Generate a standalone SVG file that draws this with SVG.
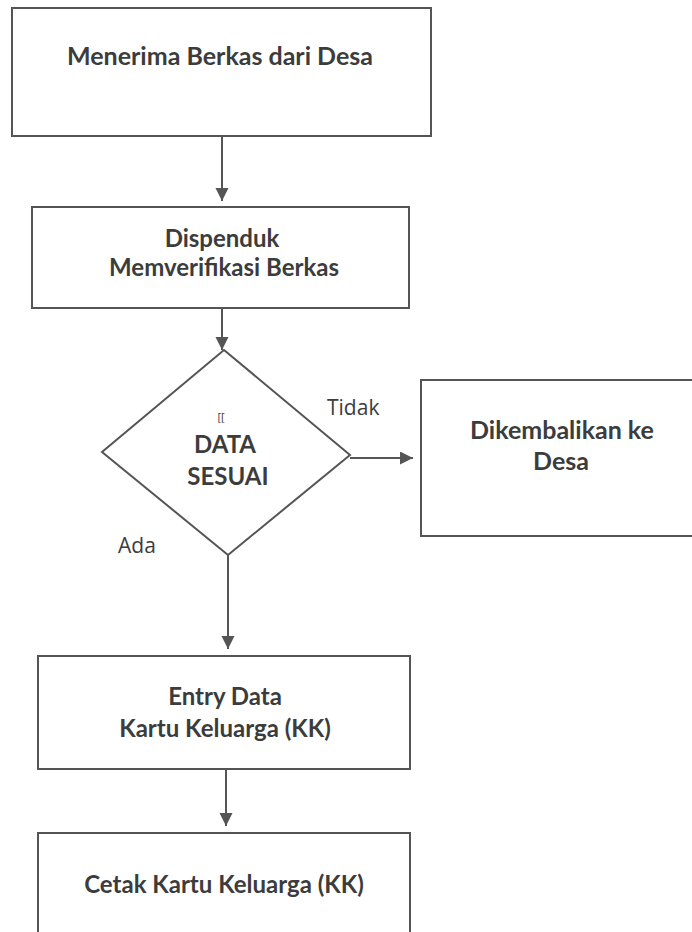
<svg xmlns="http://www.w3.org/2000/svg" width="692" height="932" viewBox="0 0 692 932">
<defs>
<marker id="ah" markerWidth="14" markerHeight="14" refX="13" refY="6.5" orient="auto" markerUnits="userSpaceOnUse">
<path d="M0,0 L13,6.5 L0,13 z" fill="#555"/>
</marker>
<style>
.box{fill:#fff;stroke:#555;stroke-width:2}
.t{font-family:Lato,"Open Sans",sans-serif;font-weight:bold;font-size:24px;fill:#3c3c3c;text-anchor:middle}
.l{font-family:"Open Sans",Lato,sans-serif;font-size:21px;fill:#3c3c3c}
.c{fill:none;stroke:#555;stroke-width:2;marker-end:url(#ah)}
</style>
</defs>
<rect width="692" height="932" fill="#fff"/>
<g id="connectors">
<path class="c" d="M222,136 L222,201"/>
<path class="c" d="M222,308 L222,350"/>
<path class="c" d="M350,458 L413,458"/>
<path class="c" d="M228,555 L228,649"/>
<path class="c" d="M226,770 L226,826"/>
</g>
<g id="n1"><rect class="box" x="12" y="8" width="419" height="128"/>
<text class="t" x="220" y="65" style="font-size:25px">Menerima Berkas dari Desa</text></g>
<g id="n2"><rect class="box" x="32" y="207" width="377" height="101"/>
<text class="t" x="222" y="247">Dispenduk</text>
<text class="t" x="224" y="276">Memverifikasi Berkas</text></g>
<g id="n3"><path class="box" d="M224,350 L350,455 L228,555 L102,452 Z"/>
<text x="221" y="421" style="font-family:'Open Sans',sans-serif;font-size:11px;fill:#3c3c3c;text-anchor:middle">[[</text>
<text class="t" x="225" y="453">DATA</text>
<text class="t" x="228" y="485">SESUAI</text></g>
<g id="n4"><rect class="box" x="421" y="380" width="280" height="156"/>
<text class="t" x="562" y="439" style="font-size:25px">Dikembalikan ke</text>
<text class="t" x="561" y="470" style="font-size:25px">Desa</text></g>
<g id="n5"><rect class="box" x="38" y="656" width="372" height="113"/>
<text class="t" x="225" y="705">Entry Data</text>
<text class="t" x="225" y="737">Kartu Keluarga (KK)</text></g>
<g id="n6"><rect class="box" x="38" y="833" width="372" height="120"/>
<text class="t" x="224" y="893">Cetak Kartu Keluarga (KK)</text></g>
<g id="labels">
<text class="l" x="327" y="415">Tidak</text>
<text class="l" x="118" y="553">Ada</text>
</g>
</svg>
